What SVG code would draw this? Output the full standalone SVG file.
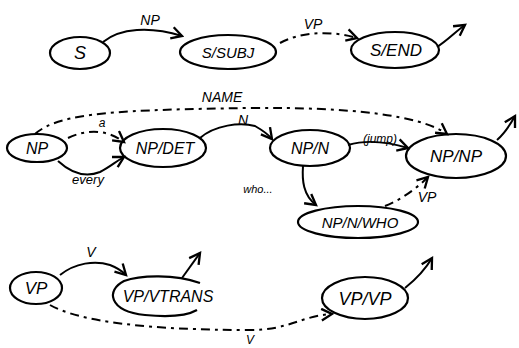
<svg xmlns="http://www.w3.org/2000/svg" width="519" height="348" viewBox="0 0 519 348">
<style>
.node{fill:none;stroke:#000;stroke-width:2.2}
.lbl{font-family:"Liberation Sans",Arial,sans-serif;fill:#000;text-anchor:middle}
.nl{font-size:16px;font-style:italic}
.el{font-size:14px;font-style:italic}
.edge{fill:none;stroke:#000;stroke-width:2;marker-end:url(#ah)}
.dash{stroke-dasharray:9,5,3,5}
</style>
<defs>
<marker id="ah" viewBox="0 0 12 12" refX="10" refY="6" markerWidth="14" markerHeight="14" markerUnits="userSpaceOnUse" orient="auto">
<path d="M1,1 L10,6 L1,11" fill="none" stroke="#000" stroke-width="2"/>
</marker>
</defs>
<rect width="519" height="348" fill="#fff"/>
<g id="connectors">
<path class="edge" d="M103,42 C120,28 150,26 182,36"/>
<path class="edge dash" d="M280,43 C300,32 330,30 357,38"/>
<path class="edge" d="M437,47 C448,40 455,32 465,25"/>
<path class="edge dash" d="M35,134 C60,112 120,110 250,108 C350,107 420,115 447,134"/>
<path class="edge dash" d="M68,138 C85,130 105,128 124,142"/>
<path class="edge" d="M58,161 C70,172 85,178 100,172 C110,167 115,162 124,157"/>
<path class="edge" d="M200,138 C215,125 240,122 255,126 C262,130 268,134 272,139"/>
<path class="edge" d="M348,145 C365,140 385,141 408,148"/>
<path class="edge" d="M303,166 C302,180 303,195 316,205"/>
<path class="edge dash" d="M385,206 C400,200 415,190 428,177"/>
<path class="edge" d="M497,140 C505,133 510,125 515,116"/>
<path class="edge" d="M60,275 C75,263 95,260 110,265 C118,268 122,271 126,275"/>
<path class="edge" d="M182,278 L200,253"/>
<path class="edge dash" d="M50,305 C80,322 150,330 250,330 C290,330 300,316 332,314"/>
<path class="edge" d="M405,288 C415,280 425,270 432,258"/>
<text class="lbl el" x="150" y="25">NP</text>
<text class="lbl el" x="313" y="29">VP</text>
<text class="lbl el" x="222" y="102">NAME</text>
<text class="lbl el" x="102" y="127" style="font-size:12px">a</text>
<text class="lbl el" x="88" y="184" style="font-size:13px">every</text>
<text class="lbl el" x="243" y="125">N</text>
<text class="lbl el" x="380" y="143" style="font-size:12px">(jump)</text>
<text class="lbl el" x="258" y="193" style="font-size:11px">who...</text>
<text class="lbl el" x="427" y="202">VP</text>
<text class="lbl el" x="91" y="257">V</text>
<text class="lbl el" x="250" y="344" style="font-size:12px">V</text>
</g>
<g id="n-S"><ellipse class="node" cx="80" cy="53" rx="30" ry="16"/><text class="lbl nl" x="80" y="59" style="font-size:18px">S</text></g>
<g id="n-SSUBJ"><ellipse class="node" cx="228" cy="52" rx="48" ry="17"/><text class="lbl nl" x="228" y="58" style="font-size:15px">S/SUBJ</text></g>
<g id="n-SEND"><ellipse class="node" cx="395" cy="50" rx="44" ry="18"/><text class="lbl nl" x="396" y="56" style="font-size:17px">S/END</text></g>
<g id="n-NP"><ellipse class="node" cx="37" cy="148" rx="30" ry="14"/><text class="lbl nl" x="37" y="154">NP</text></g>
<g id="n-NPDET"><ellipse class="node" cx="163" cy="148" rx="43" ry="19"/><text class="lbl nl" x="165" y="154">NP/DET</text></g>
<g id="n-NPN"><ellipse class="node" cx="310" cy="148" rx="40" ry="18"/><text class="lbl nl" x="310" y="154">NP/N</text></g>
<g id="n-NPNP"><ellipse class="node" cx="456" cy="156" rx="50" ry="22"/><text class="lbl nl" x="456" y="162" style="font-size:17px">NP/NP</text></g>
<g id="n-NPNWHO"><ellipse class="node" cx="358" cy="222" rx="60" ry="16"/><text class="lbl nl" x="360" y="228" style="font-size:15px">NP/N/WHO</text></g>
<g id="n-VP"><ellipse class="node" cx="36" cy="288" rx="26" ry="16"/><text class="lbl nl" x="36" y="294" style="font-size:17px">VP</text></g>
<g id="n-VPVTRANS"><path class="node" d="M200,283 C175,274 140,275 124,281 C106,290 108,311 145,315 C175,318 190,314 197,310"/><text class="lbl nl" x="168" y="302" style="font-size:16px">VP/VTRANS</text></g>
<g id="n-VPVP"><ellipse class="node" cx="365" cy="298" rx="43" ry="21"/><text class="lbl nl" x="365" y="305" style="font-size:18px">VP/VP</text></g>
</svg>
